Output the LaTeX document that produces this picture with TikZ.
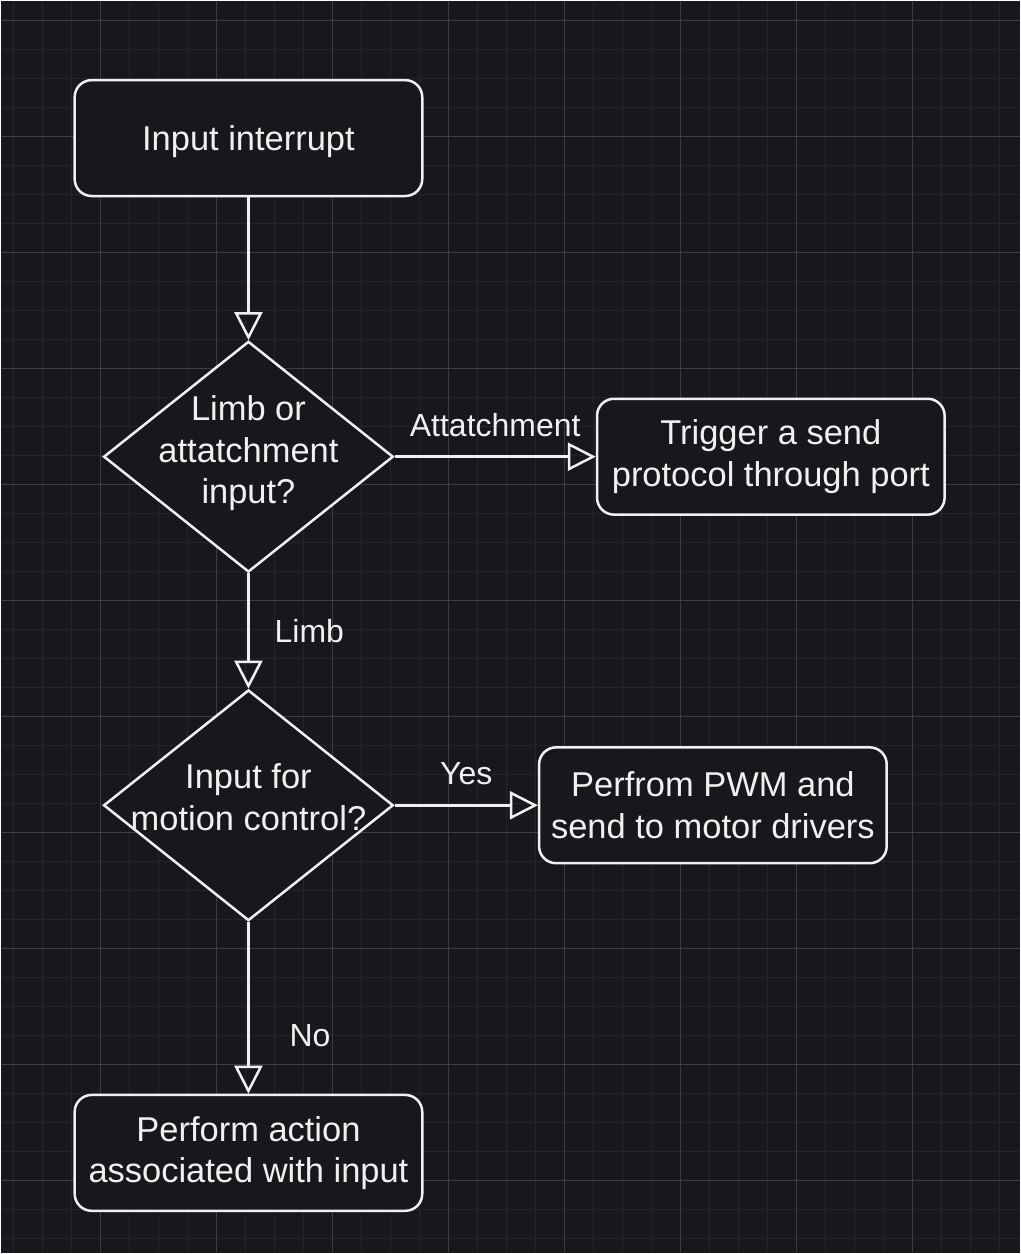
\documentclass[tikz,border=0pt]{standalone}
\usepackage{fontspec}
\setmainfont{Liberation Sans}
\usetikzlibrary{shapes.geometric,arrows.meta,positioning}

\definecolor{canvas}{HTML}{18171C}
\definecolor{gridminor}{HTML}{25242A}
\definecolor{gridmajor}{HTML}{3E3D42}
\definecolor{ink}{HTML}{F0F0F0}

\begin{document}
\begin{tikzpicture}[
    x=0.5pt, y=-0.5pt,
    font=\fontsize{17.25}{20.75}\selectfont,
    >={Triangle[open,length=14pt,width=14pt]},
    box/.style={rectangle, draw=ink, fill=canvas, text=ink, line width=1.25pt,
                rounded corners=8.5pt, align=center, inner sep=0pt,
                minimum width=174pt, minimum height=58pt},
    dec/.style={diamond, draw=ink, fill=canvas, line width=1.25pt, inner sep=0pt,
                minimum width=145pt, minimum height=115.5pt},
    txt/.style={text=ink, align=center, inner sep=0pt},
    lbl/.style={text=ink, inner sep=0pt, font=\fontsize{16}{19}\selectfont},
    arr/.style={->, draw=ink, line width=1.25pt}
]
% Canvas with the editor grid
\fill[canvas] (0,0) rectangle (1020,1254);
\foreach \gx in {0,...,34}
    \draw[gridminor, line width=0.75pt] ({12.9+29.03*\gx},0) -- ({12.9+29.03*\gx},1254);
\foreach \gy in {0,...,42}
    \draw[gridminor, line width=0.75pt] (0,{20+29.03*\gy}) -- (1020,{20+29.03*\gy});
\foreach \gx in {0,...,7}
    \draw[gridmajor, line width=0.5pt] ({100+116.1*\gx},0) -- ({100+116.1*\gx},1254);
\foreach \gy in {0,...,10}
    \draw[gridmajor, line width=0.5pt] (0,{20+116.1*\gy}) -- (1020,{20+116.1*\gy});

% Main column
\node[box, text depth=0pt] (irq) at (248,137.5) {Input interrupt};
\node[dec] (kind) at (248,456.5)  {};
\node[txt] (kindtxt) at (248,453) {Limb or\\attatchment\\input?};
\node[dec] (motion) at (248,805.5) {};
\node[txt] (motiontxt) at (248,797.5) {Input for\\motion control?};
\node[box] (action) at (248,1153.5) {Perform action\\associated with input};
% Branches to the right
\node[box] (trig) at (771,456.5) {Trigger a send\\protocol through port};
\node[box] (pwm)  at (713,805.5) {Perfrom PWM and\\send to motor drivers};

% Edges
\draw[arr] (irq) -- (kind);
\draw[arr] (kind.east) -- node[lbl, above=9.5pt] (lattach) {Attatchment} (trig.west);
\draw[arr] (kind) -- node[lbl, right=12.5pt] (llimb) {Limb} (motion);
\draw[arr] (motion.east) -- node[lbl, above=9.5pt] (lyes) {Yes} (pwm.west);
\draw[arr] (motion) -- node[lbl, right=20pt, pos=0.66] (lno) {No} (action);
\end{tikzpicture}
\end{document}
